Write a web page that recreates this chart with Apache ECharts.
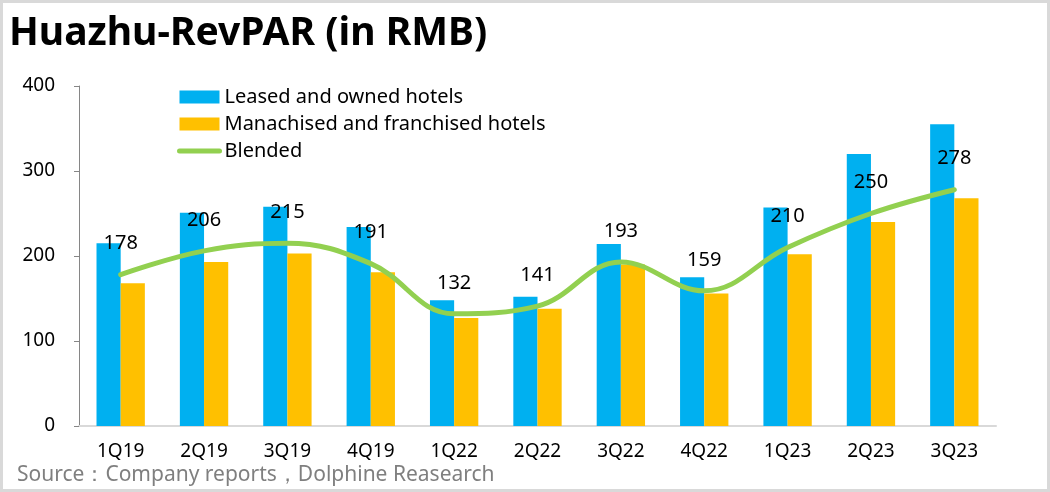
<!DOCTYPE html>
<html>
<head>
<meta charset="utf-8">
<script src="https://cdn.jsdelivr.net/npm/echarts@6/dist/echarts.min.js"></script>
<style>
html,body{margin:0;padding:0;background:#fff;}
#wrap{position:relative;width:1050px;height:492px;}
#chart{position:absolute;left:0;top:0;width:1050px;height:492px;}
#frame{position:absolute;left:0;top:0;width:1050px;height:492px;box-sizing:border-box;border:3px solid #d9d9d9;pointer-events:none;}
</style>
</head>
<body>
<div id="wrap"><div id="chart"></div><div id="frame"></div></div>
<script>
const categories = ['1Q19','2Q19','3Q19','4Q19','1Q22','2Q22','3Q22','4Q22','1Q23','2Q23','3Q23'];
const leasedOwned = [215, 251, 258, 234, 148, 152, 214, 175, 257, 320, 355];
const franchised = [168, 193, 203, 181, 127, 138, 190, 156, 202, 240, 268];
const blended = [178, 206, 215, 191, 132, 141, 193, 159, 210, 250, 278];
const yTicks = [0, 100, 200, 300, 400];

const FONT = '"Noto Sans", "Open Sans", sans-serif';
const chart = echarts.init(document.getElementById('chart'));
chart.setOption({
  animation: false,
  backgroundColor: '#fff',
  title: {
    text: 'Huazhu-RevPAR (in RMB)',
    left: 4, top: 9,
    textStyle: {fontFamily: FONT, fontSize: 39, fontWeight: 'bold', color: '#000'}
  },
  graphic: [{
    type: 'text', left: 17, top: 465,
    style: {text: 'Source：Company reports，Dolphine Reasearch', font: '21px ' + FONT, fill: '#7f7f7f'}
  }],
  legend: {
    orient: 'vertical', left: 172, top: 82, itemGap: 7,
    itemWidth: 40, itemHeight: 13,
    textStyle: {fontFamily: FONT, fontSize: 20, color: '#000'},
    data: [
      {name: 'Leased and owned hotels', icon: 'rect'},
      {name: 'Manachised and franchised hotels', icon: 'rect'},
      {name: 'Blended', itemStyle: {opacity: 0}, lineStyle: {width: 5, color: '#92D050', cap: 'round'}}
    ]
  },
  grid: {left: 79, right: 54, top: 86, bottom: 66, containLabel: false},
  xAxis: {
    type: 'category', data: categories,
    axisLine: {lineStyle: {color: '#d9d9d9', width: 2}},
    axisTick: {show: false},
    axisLabel: {fontFamily: FONT, fontSize: 19, color: '#000', margin: 16}
  },
  yAxis: {
    type: 'value', min: yTicks[0], max: yTicks[yTicks.length - 1], interval: 100,
    axisLine: {show: true, lineStyle: {color: '#868686', width: 1}},
    axisTick: {show: true, length: 5, lineStyle: {color: '#868686'}},
    splitLine: {show: false},
    axisLabel: {fontFamily: FONT, fontSize: 19, color: '#000', margin: 24}
  },
  series: [
    {
      name: 'Leased and owned hotels', type: 'bar', data: leasedOwned,
      itemStyle: {color: '#00B0F0'}, barGap: '0%', barCategoryGap: '42%'
    },
    {
      name: 'Manachised and franchised hotels', type: 'bar', data: franchised,
      itemStyle: {color: '#FFC000'}
    },
    {
      name: 'Blended', type: 'line', data: blended, smooth: 0.4,
      symbol: 'circle', symbolSize: 2, showSymbol: true,
      itemStyle: {color: '#92D050'},
      lineStyle: {color: '#92D050', width: 5, cap: 'round'},
      label: {show: true, position: 'top', distance: 20, fontFamily: FONT, fontSize: 20, color: '#000'}
    }
  ]
});
</script>
</body>
</html>
